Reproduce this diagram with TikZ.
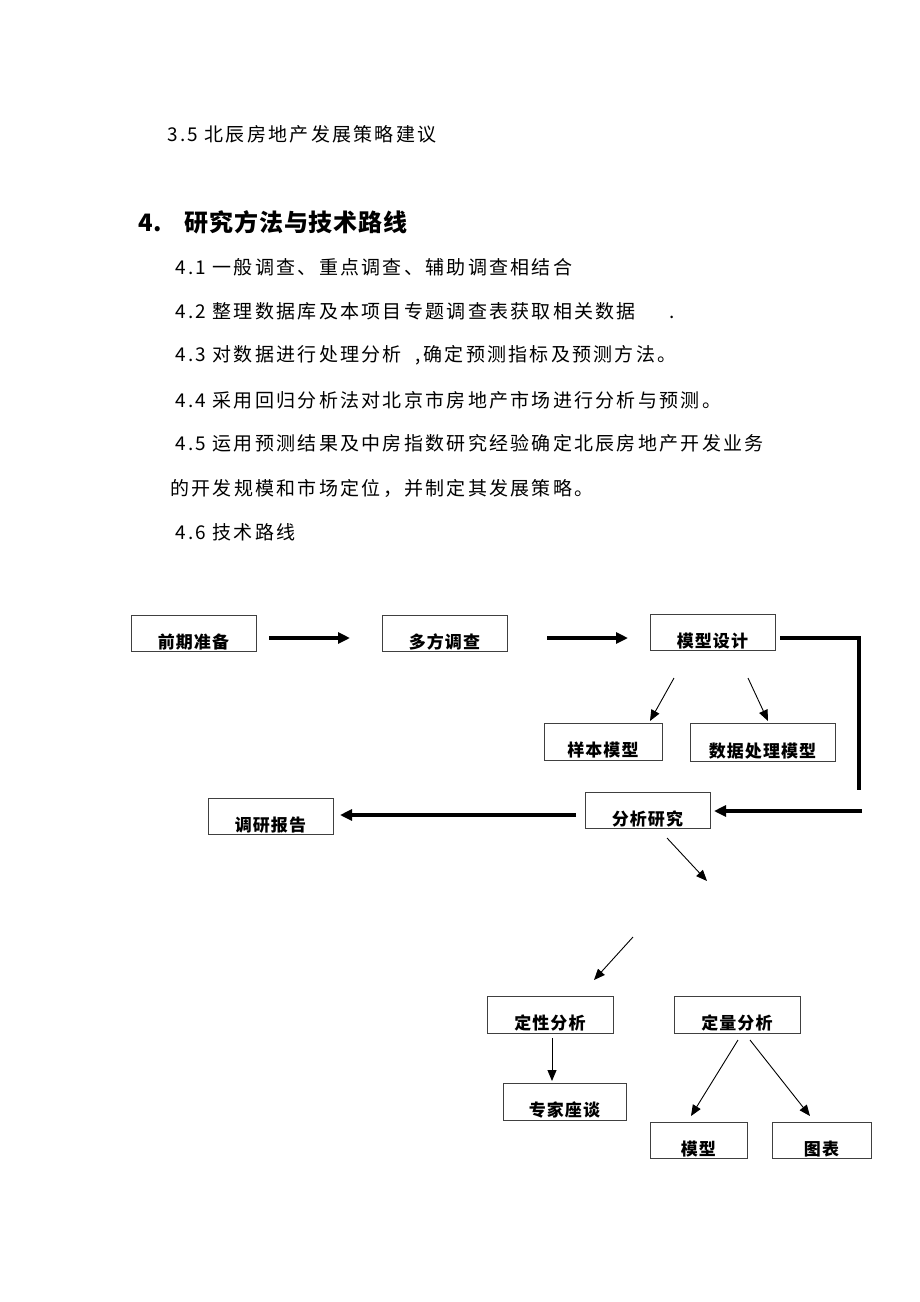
\documentclass[tikz,border=0pt]{standalone}
\usepackage{fontspec}
\newfontfamily\cjk{Noto Sans CJK SC}[LetterSpace=12]
\newfontfamily\cjkbox{Noto Sans CJK SC}[LetterSpace=6]
\newfontfamily\cjkhead{Noto Sans CJK SC}[LetterSpace=4]
\usepackage{tikz}
\usetikzlibrary{arrows.meta, positioning}

\begin{document}
\begin{tikzpicture}[
  x=1pt, y=-1pt,
  para/.style={anchor=west, inner sep=0pt, font=\cjk\fontsize{19pt}{22pt}\selectfont},
  head/.style={anchor=west, inner sep=0pt, font=\cjkhead\bfseries\fontsize{24pt}{28pt}\selectfont},
  box/.style={rectangle, draw=black!75, line width=0.9pt, fill=white,
              minimum width=125pt, minimum height=36pt,
              text height=30pt, text depth=0pt, inner ysep=3pt,
              font=\cjkbox\bfseries\fontsize{17pt}{20pt}\selectfont},
  bigar/.style={line width=3.4pt, -{Triangle[length=12pt,width=11pt]}},
  bigline/.style={line width=3.4pt, line join=miter},
  ar/.style={line width=0.9pt, -{Triangle[length=11pt,width=9pt]}}
]
\path[fill=white] (0,0) rectangle (920,1302);

% text above the chart
\node[para] (l35) at (167,134) {3.5 北辰房地产发展策略建议};
\node[head] (h4)  at (138,222) {4.\hspace{22pt}研究方法与技术路线};
\node[para] (l41) at (175,267) {4.1 一般调查、重点调查、辅助调查相结合};
\node[para] (l42) at (175,311) {4.2 整理数据库及本项目专题调查表获取相关数据\hspace{34pt}.};
\node[para] (l43) at (175,355) {4.3 对数据进行处理分析\hspace{14pt},确定预测指标及预测方法。};
\node[para] (l44) at (175,400) {4.4 采用回归分析法对北京市房地产市场进行分析与预测。};
\node[para] (l45) at (175,443) {4.5 运用预测结果及中房指数研究经验确定北辰房地产开发业务};
\node[para] (l45b) at (170,488) {的开发规模和市场定位，并制定其发展策略。};
\node[para] (l46) at (175,532) {4.6 技术路线};

% boxes
\node[box] (qq) at (193.5,633)  {前期准备};
\node[box] (dc) at (444.5,633)  {多方调查};
\node[box] (mx) at (712.5,632.5) {模型设计};
\node[box, minimum width=118pt, minimum height=37pt] (yb) at (603,741.5) {样本模型};
\node[box, minimum width=145pt, minimum height=38pt] (sj) at (762.5,742) {数据处理模型};
\node[box] (bg) at (270.5,816)  {调研报告};
\node[box, minimum height=35pt] (fx) at (647.5,810.5) {分析研究};
\node[box, minimum width=126pt, minimum height=37pt] (dx) at (550,1014.5) {定性分析};
\node[box, minimum width=126pt, minimum height=37pt] (dl) at (737,1014.5) {定量分析};
\node[box, minimum width=123pt, minimum height=37pt] (zj) at (564.5,1101.5) {专家座谈};
\node[box, minimum width=97pt, minimum height=35pt] (mo) at (698.5,1140.5) {模型};
\node[box, minimum width=99pt, minimum height=35pt] (tb) at (821.5,1140.5) {图表};

% free arrow ends
\coordinate (a1) at (269,638);  \coordinate (b1) at (350,638);
\coordinate (a2) at (547,638);  \coordinate (b2) at (628,638);
\coordinate (a3) at (780,638);  \coordinate (c3) at (859,638); \coordinate (b3) at (859,790);
\coordinate (a4) at (862,811);  \coordinate (b4) at (714,811);
\coordinate (a5) at (576,815);  \coordinate (b5) at (340,815);
\coordinate (s1) at (674,678);  \coordinate (e1) at (650,721);
\coordinate (s2) at (748,678);  \coordinate (e2) at (768,721);
\coordinate (s3) at (667,838);  \coordinate (e3) at (707,881);
\coordinate (s4) at (633,937);  \coordinate (e4) at (594,980);
\coordinate (s5) at (552,1038); \coordinate (e5) at (552,1081);
\coordinate (s6) at (738,1040); \coordinate (e6) at (691,1116);
\coordinate (s7) at (750,1040); \coordinate (e7) at (810,1116);

\foreach \i/\j in {a1/b1,a2/b2,a4/b4,a5/b5}
  \draw[bigar] (\i) -- (\j);
\draw[bigline] (a3) -- (c3) -- (b3);
\foreach \i/\j in {s1/e1,s2/e2,s3/e3,s4/e4,s5/e5,s6/e6,s7/e7}
  \draw[ar] (\i) -- (\j);
\end{tikzpicture}
\end{document}
